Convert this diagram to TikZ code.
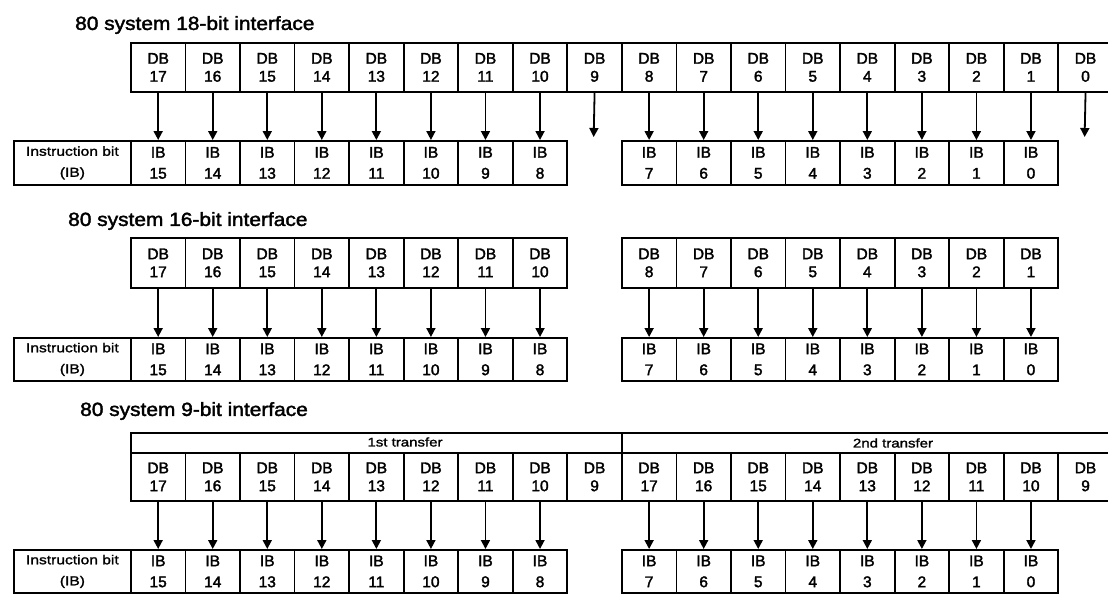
\documentclass[tikz,border=0pt]{standalone}
\usepackage{fontspec}
\setmainfont{Liberation Sans}[FakeBold=1.5]
\newfontfamily\cellfont[FakeBold=2]{Liberation Sans}
\newfontfamily\widefont[FakeStretch=1.1,FakeBold=2]{Liberation Sans}
\newfontfamily\widerfont[FakeStretch=1.2,FakeBold=1.5]{Liberation Sans}
\usetikzlibrary{arrows.meta}
\begin{document}
\begin{tikzpicture}[x=1pt,y=-1pt,
  cell/.style={draw, line width=1.8pt, minimum width=54.55pt, anchor=north west, inner sep=0pt, align=center},
  dbcell/.style={cell, minimum height=49pt, font=\cellfont\fontsize{15.5}{18}\selectfont},
  ibcell/.style={cell, minimum height=44pt, font=\cellfont\fontsize{15.5}{21}\selectfont},
  lbl/.style={draw, line width=1.8pt, anchor=north west, inner sep=0pt, align=center, minimum width=117pt, minimum height=44pt, font=\widerfont\fontsize{13}{21}\selectfont},
  ttl/.style={anchor=west, inner sep=0pt, font=\widefont\fontsize{19}{22}\selectfont},
  hdr/.style={draw, line width=1.8pt, anchor=north west, minimum height=20pt, inner sep=0pt},
  hdrtext/.style={inner sep=0pt, font=\widerfont\fontsize{12.5}{15}\selectfont},
  conn/.style={line width=1.8pt, -{Triangle[width=9pt,length=9pt]}}
]
\useasboundingbox (0,0) rectangle (1108,595);
\clip (0,0) rectangle (1108,595);

% ---------------- Section 1: 18-bit ----------------
\node[ttl] (a-title) at (75,25) {80 system 18-bit interface};
\foreach \i in {0,...,17} {
  \pgfmathtruncatemacro\n{17-\i}
  \node[dbcell] (a-db-\i) at ({130+54.55*\i},42) {DB\\\n};
}
\node[lbl] (a-lbl) at (13,140) {Instruction bit\\(IB)};
\foreach \i in {0,...,7} {
  \pgfmathtruncatemacro\n{15-\i}
  \node[ibcell] (a-ib-\i) at ({130+54.55*\i},140) {IB\\\n};
}
\foreach \i in {9,...,16} {
  \pgfmathtruncatemacro\n{16-\i}
  \node[ibcell] (a-ib-\i) at ({130+54.55*\i},140) {IB\\\n};
}
\foreach \i in {0,...,7,9,10,...,16} {
  \draw[conn] (a-db-\i.south) -- (a-ib-\i.north);
}
\coordinate (a-end-8) at ({130+54.55*8.5},137);
\coordinate (a-end-17) at ({130+54.55*17.5},137);
\draw[conn] (a-db-8.south) -- (a-end-8);
\draw[conn] (a-db-17.south) -- (a-end-17);

% ---------------- Section 2: 16-bit ----------------
\node[ttl] (b-title) at (68,221) {80 system 16-bit interface};
\foreach \i in {0,...,7,9,10,...,16} {
  \pgfmathtruncatemacro\n{17-\i}
  \node[dbcell, minimum height=50pt] (b-db-\i) at ({130+54.55*\i},237) {DB\\\n};
}
\node[lbl, minimum height=43pt] (b-lbl) at (13,337) {Instruction bit\\(IB)};
\foreach \i in {0,...,7} {
  \pgfmathtruncatemacro\n{15-\i}
  \node[ibcell, minimum height=43pt] (b-ib-\i) at ({130+54.55*\i},337) {IB\\\n};
}
\foreach \i in {9,...,16} {
  \pgfmathtruncatemacro\n{16-\i}
  \node[ibcell, minimum height=43pt] (b-ib-\i) at ({130+54.55*\i},337) {IB\\\n};
}
\foreach \i in {0,...,7,9,10,...,16} {
  \draw[conn] (b-db-\i.south) -- (b-ib-\i.north);
}

% ---------------- Section 3: 9-bit ----------------
\node[ttl] (c-title) at (80,411) {80 system 9-bit interface};
\node[hdr, minimum width={54.55pt*9}] (c-h1) at (130,432) {};
\node[hdr, minimum width={54.55pt*9}] (c-h2) at ({130+54.55*9},432) {};
\node[hdrtext] (c-h1t) at (405,442) {1st transfer};
\node[hdrtext] (c-h2t) at (893,443) {2nd transfer};
\foreach \i in {0,...,8} {
  \pgfmathtruncatemacro\n{17-\i}
  \node[dbcell, minimum height=48pt] (c-db-\i) at ({130+54.55*\i},452) {DB\\\n};
}
\foreach \i in {9,...,17} {
  \pgfmathtruncatemacro\n{26-\i}
  \node[dbcell, minimum height=48pt] (c-db-\i) at ({130+54.55*\i},452) {DB\\\n};
}
\node[lbl, minimum height=43pt] (c-lbl) at (13,549) {Instruction bit\\(IB)};
\foreach \i in {0,...,7} {
  \pgfmathtruncatemacro\n{15-\i}
  \node[ibcell, minimum height=43pt] (c-ib-\i) at ({130+54.55*\i},549) {IB\\\n};
}
\foreach \i in {9,...,16} {
  \pgfmathtruncatemacro\n{16-\i}
  \node[ibcell, minimum height=43pt] (c-ib-\i) at ({130+54.55*\i},549) {IB\\\n};
}
\foreach \i in {0,...,7,9,10,...,16} {
  \draw[conn] (c-db-\i.south) -- (c-ib-\i.north);
}
\end{tikzpicture}
\end{document}
